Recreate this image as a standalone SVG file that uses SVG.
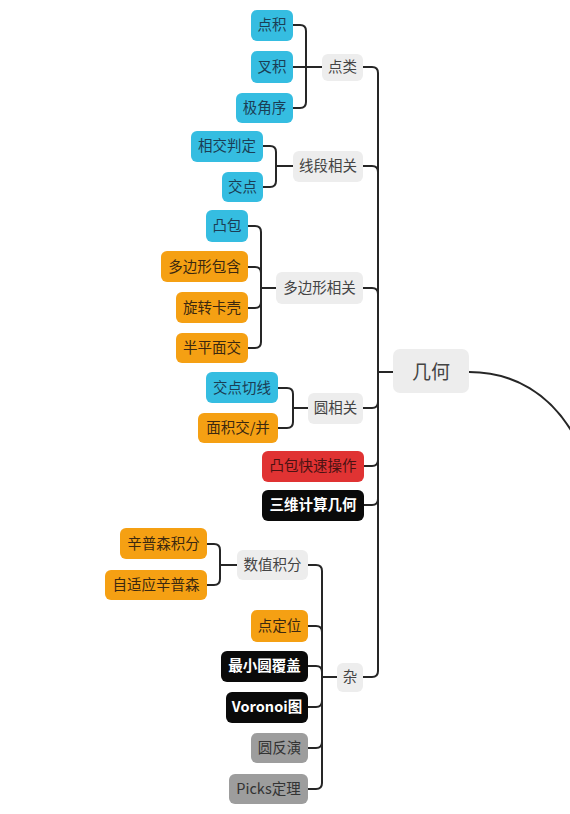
<svg xmlns="http://www.w3.org/2000/svg" width="570" height="814" viewBox="0 0 570 814">
<style>
text{font-family:"Noto Sans CJK SC","Noto Sans",sans-serif;font-size:14.5px;text-anchor:middle}
.c rect{fill:#35bde1}.c text{fill:#1b3e55}
.o rect{fill:#f5a013}.o text{fill:#3b2810}
.g rect{fill:#9d9d9d}.g text{fill:#333}
.l rect{fill:#ededed}.l text{fill:#444}
.r rect{fill:#e03333}.r text{fill:#4a1212}
.k rect{fill:#0a0a0a}.k text{fill:#fff;font-weight:bold}
#links path{fill:none;stroke:#262626;stroke-width:2}
</style>
<rect width="570" height="814" fill="#fff"/>
<g id="links">
<path d="M393,372 H378"/>
<path d="M469,372 C515,372 550,395 572,432" stroke-width="2.6"/>
<path d="M378,372 V73 Q378,67 372,67 H363"/>
<path d="M378,372 V172 Q378,166 372,166 H363"/>
<path d="M378,372 V294 Q378,288 372,288 H363"/>
<path d="M378,372 V402 Q378,408 372,408 H363"/>
<path d="M378,372 V460 Q378,466 372,466 H364"/>
<path d="M378,372 V499 Q378,505 372,505 H364"/>
<path d="M378,372 V671 Q378,677 372,677 H363"/>
<path d="M322,67 H306"/>
<path d="M306,67 V31 Q306,25 300,25 H293"/>
<path d="M306,67 H293"/>
<path d="M306,67 V102 Q306,108 300,108 H293"/>
<path d="M293,166 H276"/>
<path d="M276,166 V152 Q276,146 270,146 H263"/>
<path d="M276,166 V181 Q276,187 270,187 H263"/>
<path d="M276,288 H261"/>
<path d="M261,288 V232 Q261,226 255,226 H248"/>
<path d="M261,288 V273 Q261,267 255,267 H248"/>
<path d="M261,288 V302 Q261,308 255,308 H248"/>
<path d="M261,288 V342 Q261,348 255,348 H248"/>
<path d="M308,408 H293"/>
<path d="M293,408 V394 Q293,388 287,388 H278"/>
<path d="M293,408 V422 Q293,428 287,428 H278"/>
<path d="M337,677 H322"/>
<path d="M322,677 V571 Q322,565 316,565 H308"/>
<path d="M322,677 V632 Q322,626 316,626 H308"/>
<path d="M322,677 V672 Q322,666 316,666 H308"/>
<path d="M322,677 V701 Q322,707 316,707 H308"/>
<path d="M322,677 V742 Q322,748 316,748 H308"/>
<path d="M322,677 V783 Q322,789 316,789 H308"/>
<path d="M237,565 H220"/>
<path d="M220,565 V550 Q220,544 214,544 H207"/>
<path d="M220,565 V579 Q220,585 214,585 H207"/>
</g>
<g id="n-root" class="l"><rect x="393" y="349" width="76" height="44" rx="7"/><text x="431" y="379" style="font-size:19px">几何</text></g>
<g id="n-dianlei" class="l"><rect x="322" y="54" width="41" height="27" rx="6"/><text x="342.5" y="72">点类</text></g>
<g id="n-xianduan" class="l"><rect x="293" y="151" width="70" height="31" rx="6"/><text x="328" y="171">线段相关</text></g>
<g id="n-duobianxing" class="l"><rect x="276" y="272" width="87" height="32" rx="6"/><text x="319.5" y="293">多边形相关</text></g>
<g id="n-yuan" class="l"><rect x="308" y="393" width="55" height="31" rx="6"/><text x="335.5" y="413">圆相关</text></g>
<g id="n-tubaokuaisu" class="r"><rect x="262" y="451" width="102" height="31" rx="6"/><text x="313" y="471">凸包快速操作</text></g>
<g id="n-sanwei" class="k"><rect x="262" y="490" width="102" height="31" rx="6"/><text x="313" y="510">三维计算几何</text></g>
<g id="n-za" class="l"><rect x="337" y="663" width="26" height="29" rx="6"/><text x="350" y="682">杂</text></g>
<g id="n-dianji" class="c"><rect x="251" y="10" width="42" height="31" rx="6"/><text x="272" y="30">点积</text></g>
<g id="n-chaji" class="c"><rect x="251" y="51" width="42" height="32" rx="6"/><text x="272" y="72">叉积</text></g>
<g id="n-jijiaoxu" class="c"><rect x="236" y="93" width="57" height="30" rx="6"/><text x="264.5" y="113">极角序</text></g>
<g id="n-xiangjiao" class="c"><rect x="191" y="131" width="72" height="31" rx="6"/><text x="227" y="151">相交判定</text></g>
<g id="n-jiaodian" class="c"><rect x="222" y="172" width="41" height="30" rx="6"/><text x="242.5" y="192">交点</text></g>
<g id="n-tubao" class="c"><rect x="206" y="210" width="42" height="32" rx="6"/><text x="227" y="231">凸包</text></g>
<g id="n-baohan" class="o"><rect x="161" y="251" width="87" height="31" rx="6"/><text x="204.5" y="272">多边形包含</text></g>
<g id="n-xuanzhuan" class="o"><rect x="176" y="292" width="72" height="31" rx="6"/><text x="212" y="313">旋转卡壳</text></g>
<g id="n-banping" class="o"><rect x="176" y="333" width="72" height="30" rx="6"/><text x="212" y="353">半平面交</text></g>
<g id="n-qiexian" class="c"><rect x="206" y="372" width="72" height="31" rx="6"/><text x="242" y="393">交点切线</text></g>
<g id="n-mianji" class="o"><rect x="198" y="413" width="80" height="30" rx="6"/><text x="238" y="433">面积交/并</text></g>
<g id="n-shuzhi" class="l"><rect x="237" y="550" width="71" height="30" rx="6"/><text x="272.5" y="570">数值积分</text></g>
<g id="n-simpson" class="o"><rect x="120" y="528" width="87" height="31" rx="6"/><text x="163.5" y="549">辛普森积分</text></g>
<g id="n-zishiying" class="o"><rect x="105" y="570" width="102" height="30" rx="6"/><text x="156" y="590">自适应辛普森</text></g>
<g id="n-dingwei" class="o"><rect x="251" y="610" width="57" height="32" rx="6"/><text x="279.5" y="631">点定位</text></g>
<g id="n-zuixiaoyuan" class="k"><rect x="221" y="651" width="87" height="31" rx="6"/><text x="264.5" y="671">最小圆覆盖</text></g>
<g id="n-voronoi" class="k"><rect x="226" y="692" width="82" height="31" rx="6"/><text x="267" y="712">Voronoi图</text></g>
<g id="n-fanyan" class="g"><rect x="251" y="733" width="57" height="30" rx="6"/><text x="279.5" y="753">圆反演</text></g>
<g id="n-picks" class="g"><rect x="229" y="774" width="79" height="30" rx="6"/><text x="268.5" y="794">Picks定理</text></g>
</svg>
